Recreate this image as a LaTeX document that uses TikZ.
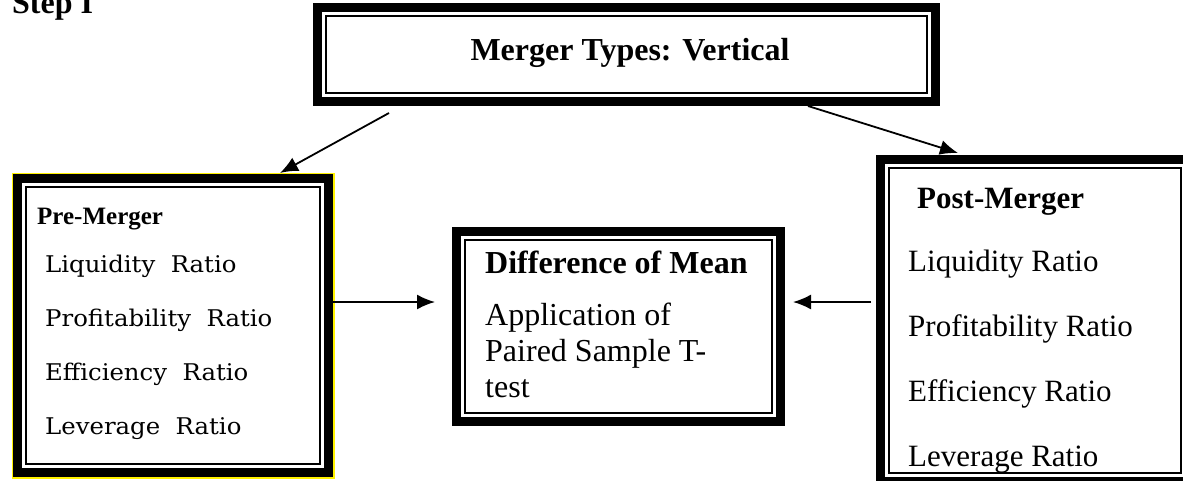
\documentclass[tikz,border=0pt]{standalone}
\usepackage{fontspec}
\setmainfont{Liberation Serif}
\newfontfamily\ratiofont[FakeStretch=1.06]{DejaVu Serif}
\usetikzlibrary{arrows.meta,positioning,calc}

\tikzset{
  frame/.style={draw,line width=9pt,outer sep=0pt,inner sep=0pt},
  inframe/.style={draw,line width=1.6pt},
  arr/.style={-{Latex[length=18pt,width=15pt]},line width=1.8pt},
  txt/.style={anchor=base west,inner sep=0pt,font=\fontsize{32}{36}\selectfont},
  head/.style={txt,font=\bfseries\fontsize{32}{36}\selectfont},
  ratio/.style={anchor=base west,inner sep=0pt,font=\ratiofont\fontsize{23}{27}\selectfont}
}

\begin{document}
\begin{tikzpicture}[x=1pt,y=-1pt]
\useasboundingbox (0,0) rectangle (1183,480);
\clip (0,0) rectangle (1183,480);
\node[head] (step) at (12,13) {Step I};
\node[frame,minimum width=618pt,minimum height=94pt] (top) at (626.5,54.5) {};
\node[frame,minimum width=311pt,minimum height=294pt] (pre) at (173,325.5) {};
\node[frame,minimum width=324pt,minimum height=190pt] (mid) at (618.5,326.5) {};
\node[frame,minimum width=309pt,minimum height=322pt] (post) at (1035,320.5) {};
\foreach \n in {top,pre,mid,post}
  \draw[inframe] ($(\n.north west)+(8.5,8.5)$) rectangle ($(\n.south east)+(-8.5,-8.5)$);
\draw[yellow,line width=1.5pt] ($(pre.north west)+(-5.25,-5.25)$) rectangle ($(pre.south east)+(5.25,5.25)$);

\node[head,anchor=base] (toptxt) at (630,60) {Merger Types: Vertical};

\node[head,font=\bfseries\fontsize{25}{29}\selectfont] (prehd) at (37,224) {Pre-Merger};
\foreach \t [count=\i] in {Liquidity\ \ Ratio,Profitability\ \ Ratio,Efficiency\ \ Ratio,Leverage\ \ Ratio}
  \node[ratio] (pre\i) at (45,218+54*\i) {\t};

\node[head] (midhd) at (485,273) {Difference of Mean};
\node[txt] (mid1) at (485,325) {Application of};
\node[txt] (mid2) at (485,361) {Paired Sample T-};
\node[txt] (mid3) at (485,397) {test};

\node[head,font=\bfseries\fontsize{31}{35}\selectfont] (posthd) at (917,208) {Post-Merger};
\foreach \t [count=\i] in {Liquidity Ratio,Profitability Ratio,Efficiency Ratio,Leverage Ratio}
  \node[txt,font=\fontsize{31}{35}\selectfont] (post\i) at (908,206+65*\i) {\t};

\coordinate (s1) at ($(top.south west)+(71.5,11.5)$);
\coordinate (s2) at ($(top.south)+(181.5,4.5)$);
\draw[arr] (s1) -- ($(pre.north)+(107,-5.5)$);
\draw[arr] (s2) -- ($(post.north west)+(77.5,-6.5)$);
\draw[arr] ($(pre.east)+(-3.5,-23.5)$) -- ($(mid.west)+(-21.5,-24.5)$);
\draw[arr] ($(post.west)+(-9.5,-18.5)$) -- ($(mid.east)+(12.5,-24.5)$);
\end{tikzpicture}
\end{document}
